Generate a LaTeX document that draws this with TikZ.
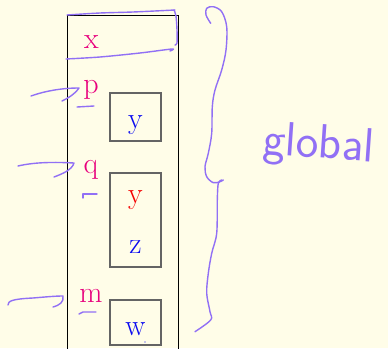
\documentclass[tikz,border=0pt]{standalone}
\usepackage{tikz}
\definecolor{bg}{RGB}{255,253,232}
\definecolor{pinkv}{RGB}{232,0,125}
\definecolor{bluev}{RGB}{10,10,240}
\definecolor{redv}{RGB}{245,0,0}
\definecolor{hand}{RGB}{145,112,245}
\definecolor{boxgray}{RGB}{100,100,100}
\begin{document}
\begin{tikzpicture}[x=1pt,y=-1pt,
  varname/.style={text=pinkv,font=\fontsize{30}{30}\selectfont,inner sep=0pt,anchor=base},
  valtext/.style={font=\fontsize{30}{30}\selectfont,inner sep=0pt,anchor=base},
  cellbox/.style={draw=boxgray,line width=1.3pt},
  frame/.style={draw=black,line width=0.8pt},
  ink/.style={draw=hand,line width=1.4pt,line cap=round,line join=round}]
\fill[bg] (0,0) rectangle (388,348);
\useasboundingbox (0,0) rectangle (388,348);
% outer frame
\draw[frame] (67,349) -- (67,15) -- (178,15) -- (178,349);
% cells
\draw[cellbox] (110,93) rectangle (161,141);
\draw[cellbox] (110,173) rectangle (161,267);
\draw[cellbox] (110,300) rectangle (161,345);
% variable names
\node[varname] (x) at (91.5,48) {x};
\node[varname] (p) at (91,93) {p};
\node[varname] (q) at (91,173) {q};
\node[varname] (m) at (91,302) {m};
% values
\node[valtext,text=bluev] (y1) at (135.5,128) {y};
\node[valtext,text=redv] (y2) at (135.5,203) {y};
\node[valtext,text=bluev] (z) at (135.5,253) {z};
\node[valtext,text=bluev] (w) at (135.5,335) {w};
\fill[bluev] (145,342) circle (0.7pt);
% box around x
\draw[ink] plot[smooth,tension=0.5] coordinates {(67,15) (100,13) (133,12) (175,10)};
\draw[ink] plot[smooth,tension=0.5] coordinates {(174,10) (176,16) (177,30) (177,43) (175,45)};
\draw[ink] plot[smooth,tension=0.5] coordinates {(66,59) (100,57) (140,53) (172,49) (170,51)};
% arrows
\coordinate (pa) at (31,96);
\coordinate (qa) at (18,166);
\coordinate (ma) at (8,305);
\draw[ink] (pa) .. controls (45,91) and (62,88) .. (79,88)
  .. controls (74,95) and (68,98) .. (62,101);
\draw[ink] (77,107) -- (94,106);
\draw[ink] (qa) .. controls (35,162) and (55,162) .. (74,163)
  .. controls (72,170) and (62,174) .. (54,177);
\draw[ink] (83,198) -- (83,194) -- (97,194);
\draw[ink] (ma) .. controls (8,301) and (12,299) .. (33,298)
  .. controls (45,297) and (55,296) .. (63,296)
  .. controls (64,302) and (60,305) .. (53,307);
\draw[ink] (79,314) -- (83,312) -- (96,312);
% brace
\draw[ink] plot[smooth,tension=0.55] coordinates {(210.7,23.3) (206,15) (206.7,8.3) (213.3,6.7) (221.7,11.7) (226.7,26.7) (226,50) (221.7,70) (215,90) (212.3,106.7) (211.7,133.3) (208.3,153.3) (205,166.7) (206.7,176.7) (213.3,182.7) (220,181.7) (223.3,180)};
\draw[ink] plot[smooth,tension=0.55] coordinates {(221.7,180) (218.3,183.3) (217.3,200) (216.7,233.3) (211.7,253.3) (208.3,273.3) (206.7,293.3) (210,311.7) (210.7,320) (195,331.7)};
% label
\node[text=hand,font=\sffamily\fontsize{48}{48}\selectfont,inner sep=0pt,anchor=base west,rotate=-4] (gl) at (262,154) {global};
\end{tikzpicture}
\end{document}
